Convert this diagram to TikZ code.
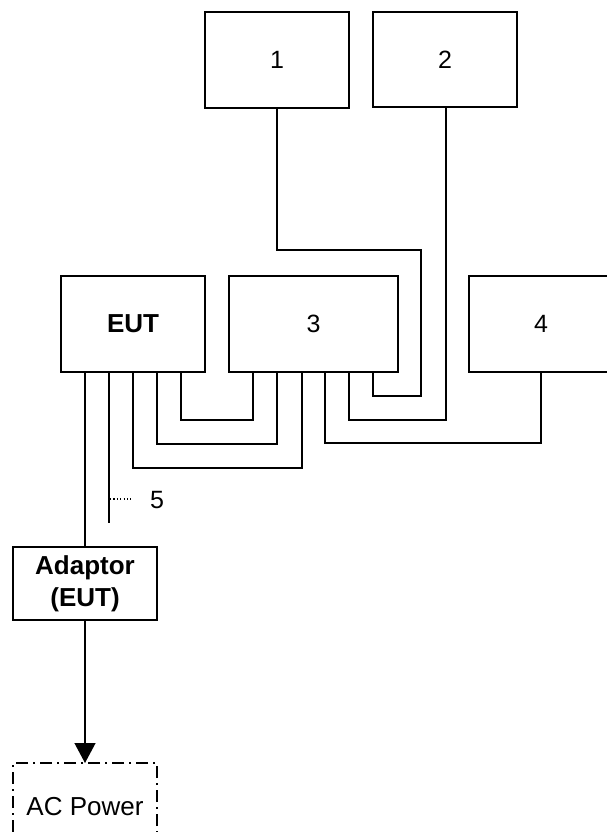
\documentclass[tikz,border=0pt]{standalone}
\usepackage{fontspec}
\setmainfont{Liberation Sans}
\usetikzlibrary{arrows.meta}
\begin{document}
\begin{tikzpicture}[x=1pt,y=-1pt,
  box/.style={draw,line width=1.4pt,inner sep=0pt,outer sep=0pt,minimum width=144pt,minimum height=96pt,font=\fontsize{25}{29}\selectfont},
  cable/.style={line width=1.3pt},
  acbox/.style={draw,line width=1.3pt,dash pattern=on 12pt off 5pt on 2pt off 5pt,inner sep=0pt,outer sep=0pt,minimum width=144pt,minimum height=87pt,font=\fontsize{26}{30}\selectfont}]
\useasboundingbox (0,0) rectangle (606,832);
\node[box] (b1) at (277,60) {1};
\node[box,minimum height=95pt] (b2) at (445,59.5) {2};
\node[box,font=\fontsize{26}{30}\selectfont\bfseries] (eut) at (133,324) {EUT};
\node[box,minimum width=169pt] (b3) at (313.5,324) {3};
\node[box] (b4) at (541,324) {4};
\node[box,minimum height=73pt,align=center,font=\fontsize{26}{32}\selectfont\bfseries] (ad) at (85,583.5) {Adaptor\\(EUT)};
\node[acbox] (ac) at (85,806.5) {AC Power};
\node[font=\fontsize{25}{29}\selectfont] (l5) at (157,500) {5};
% ports
\coordinate (p1) at (277,108);
\coordinate (p2) at (446,107);
\coordinate (p4) at (541,372);
\coordinate (e1) at (181,372);
\coordinate (e2) at (157,372);
\coordinate (e3) at (133,372);
\coordinate (e4) at (109,372);
\coordinate (e5) at (85,372);
\coordinate (t1) at (253,372);
\coordinate (t2) at (277,372);
\coordinate (t3) at (302,372);
\coordinate (t4) at (325,372);
\coordinate (t5) at (349,372);
\coordinate (t6) at (373,372);
\coordinate (e4end) at (109,523);
\coordinate (d5) at (110,499);
\coordinate (d5e) at (131,499);
% cables
\draw[cable] (p1) -- (277,250) -- (421,250) -- (421,396) -- (373,396) -- (t6);
\draw[cable] (p2) -- (446,420) -- (349,420) -- (t5);
\draw[cable] (p4) -- (541,443) -- (325,443) -- (t4);
\draw[cable] (e1) -- (181,420) -- (253,420) -- (t1);
\draw[cable] (e2) -- (157,444) -- (277,444) -- (t2);
\draw[cable] (e3) -- (133,468) -- (302,468) -- (t3);
\draw[cable] (e4) -- (e4end);
\draw[line width=1.1pt,dash pattern=on 1.2pt off 2.2pt] (d5) -- (d5e);
\draw[cable] (e5) -- (ad.north);
\draw[cable,-{Triangle[length=20pt,width=21pt]}] (ad.south) -- (ac.north);
\end{tikzpicture}
\end{document}
